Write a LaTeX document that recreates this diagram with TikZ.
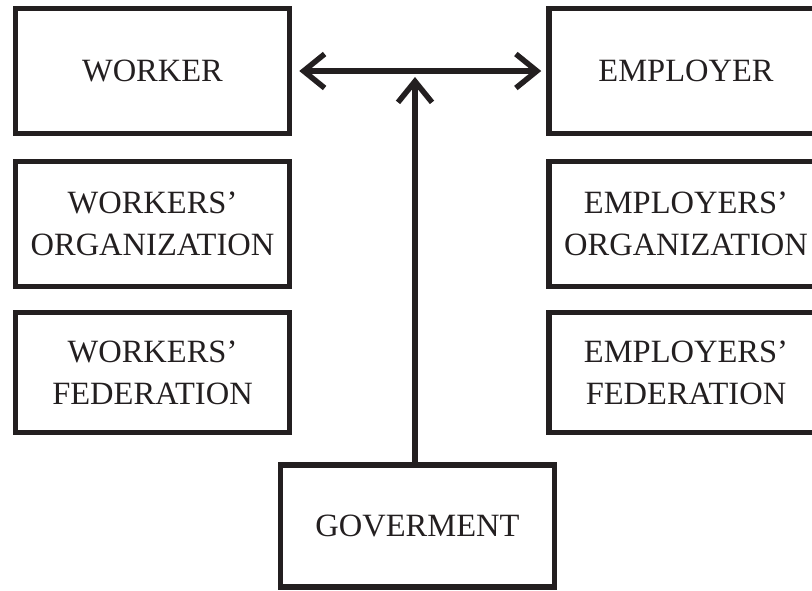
\documentclass[tikz,border=0pt]{standalone}
\usepackage{fontspec}
\setmainfont{Liberation Serif}
\usepackage{tikz}
\usetikzlibrary{arrows.meta}
\definecolor{ink}{HTML}{231F20}

\begin{document}
\begin{tikzpicture}[x=1pt, y=-1pt,
	party/.style={rectangle, draw=ink, line width=5.5pt,
	minimum width = 274pt, minimum height = 125pt,
	align=center, text=ink, font=\fontsize{32.5}{42}\selectfont},
	link/.style={draw=ink, line width=5.5pt, >={Straight Barb[length=21pt,width=34pt]}}]
				\useasboundingbox (0,0) rectangle (812,590);
				\node[party] (worker) at(152.5,71){WORKER};
				\node[party] (workorg) at(152.5,224){WORKERS'\\ORGANIZATION};
				\node[party, minimum height = 120pt] (workfed) at(152.5,372.5){WORKERS'\\FEDERATION};
				\node[party] (employer) at(686,71){EMPLOYER};
				\node[party] (emporg) at(686,224){EMPLOYERS'\\ORGANIZATION};
				\node[party, minimum height = 120pt] (empfed) at(686,372.5){EMPLOYERS'\\FEDERATION};
				\node[party, minimum height = 122pt] (gov) at(417.5,526){GOVERMENT};
				\coordinate (hub) at(415,71);
				\draw[link,<->, shorten <=7pt, shorten >=5pt] (worker.east) -- (employer.west);
				\draw[link,->] (gov.north -| hub) -- ([yshift=-6pt]hub);
			\end{tikzpicture}
\end{document}
